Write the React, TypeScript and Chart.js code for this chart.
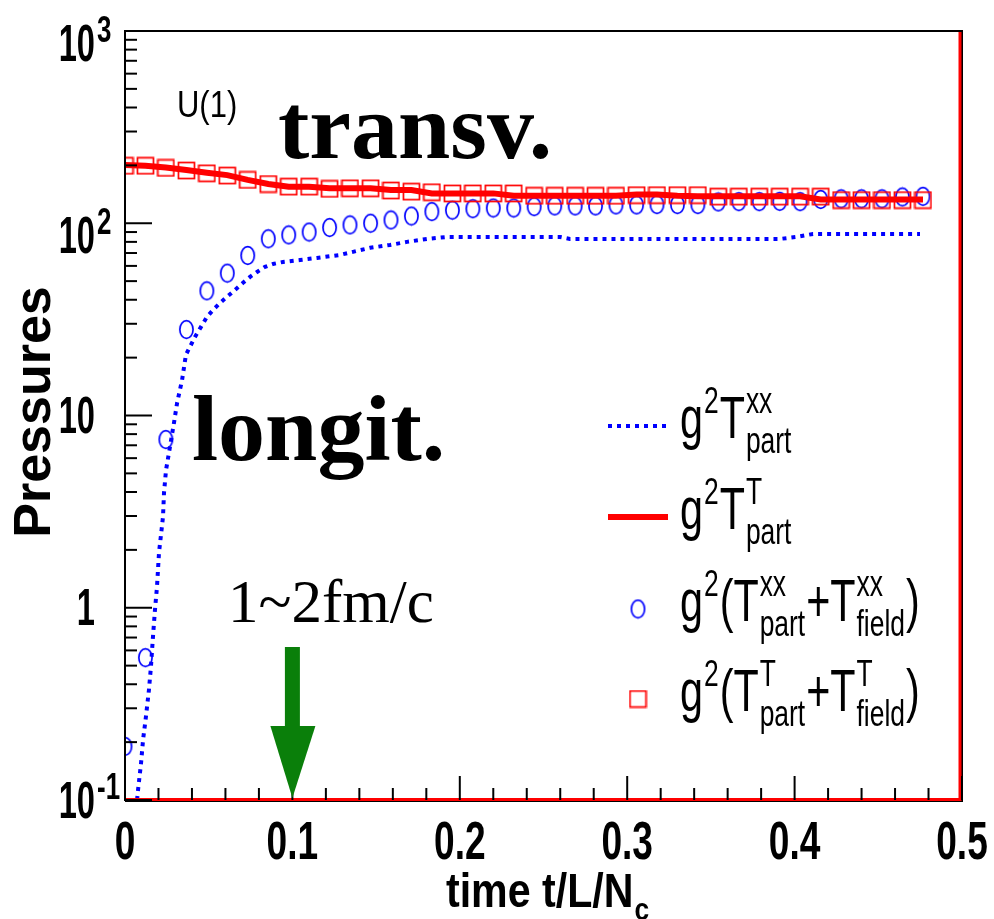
import React, { useEffect, useRef } from 'react';
import { Chart, registerables } from 'chart.js';

Chart.register(...registerables);

// ---- data ----
const MARK_T = [0, 0.0122, 0.0244, 0.0367, 0.0489, 0.0611, 0.0733, 0.0856, 0.0978, 0.11, 0.1222, 0.1344, 0.1467, 0.1589, 0.1711, 0.1833, 0.1956, 0.2078, 0.22, 0.2322, 0.2444, 0.2567, 0.2689, 0.2811, 0.2933, 0.3056, 0.3178, 0.33, 0.3422, 0.3544, 0.3667, 0.3789, 0.3911, 0.4033, 0.4156, 0.4278, 0.44, 0.4522, 0.4644, 0.4767];

// g^2 (T^xx_part + T^xx_field)  (blue circles)
const CIRCLE_V = [0.19, 0.55, 7.5, 28, 44.5, 55, 68, 83, 87, 90, 95, 98, 100, 104, 109, 115, 117, 119, 120, 120, 122, 123, 123, 123, 124.5, 124.5, 125, 125, 125, 129, 129.5, 129.5, 130, 129.5, 133, 134, 134, 134, 137, 138];

// g^2 (T^T_part + T^T_field)  (red squares)
const SQUARE_V = [199, 199, 194, 188, 182, 177, 168, 160, 155, 155, 151, 152, 152, 148, 146, 145, 143, 143, 143, 143, 139, 139, 139, 139, 139, 140, 140, 140, 140, 137.5, 137.5, 137.5, 137.5, 137.5, 137.5, 132, 132, 132, 132, 132];

// g^2 T^T_part  (red solid line)
const LINE_V = [201, 199, 195, 189, 183, 178, 168, 160, 155, 155, 152, 152, 152, 149, 149, 143, 143, 143, 143, 139, 139, 139, 139, 139, 139, 141, 141, 139, 138, 138, 138, 138, 138, 138, 133, 133, 133, 133, 133, 133];

// g^2 T^xx_part  (blue dotted line)
const DOT_T = [0.0072, 0.0078, 0.0096, 0.0108, 0.0125, 0.0143, 0.0155, 0.0167, 0.0179, 0.0191, 0.0203, 0.0227, 0.0233, 0.0245, 0.0269, 0.0293, 0.0311, 0.0341, 0.0364, 0.0418, 0.0454, 0.049, 0.0526, 0.0568, 0.0609, 0.0657, 0.0705, 0.0747, 0.0789, 0.0836, 0.0884, 0.0944, 0.1045, 0.1147, 0.1284, 0.1362, 0.1464, 0.1583, 0.1685, 0.1804, 0.1924, 0.2599, 0.2658, 0.3913, 0.4014, 0.411, 0.4749];
const DOT_V = [0.1, 0.113, 0.156, 0.206, 0.271, 0.374, 0.493, 0.706, 0.975, 1.28, 1.93, 2.97, 3.96, 5.2, 6.9, 9.2, 11.6, 15.3, 20.7, 25.6, 28.9, 32.6, 35.4, 38.5, 41.4, 45.0, 49.0, 52.6, 55.8, 59.3, 61.4, 62.9, 64.4, 66.0, 68.4, 71.0, 74.5, 77.1, 80.0, 82.9, 84.9, 84.9, 82.9, 82.9, 84.9, 88, 88];

const X_MAJOR = [0, 0.1, 0.2, 0.3, 0.4, 0.5];
const X_LABELS = ['0', '0.1', '0.2', '0.3', '0.4', '0.5'];
const Y_MAJOR = [0.1, 1, 10, 100, 1000];
const Y_LABEL_BASE = ['10', '1', '10', '10', '10'];
const Y_LABEL_EXP = ['-1', '', '', '2', '3'];

type Part = { t?: string; sup?: string; sub?: string };
const LEGEND_TEXT: Part[][] = [
  [{ t: 'g', sup: '2' }, { t: 'T', sup: 'xx', sub: 'part' }],
  [{ t: 'g', sup: '2' }, { t: 'T', sup: 'T', sub: 'part' }],
  [{ t: 'g', sup: '2' }, { t: '(T', sup: 'xx', sub: 'part' }, { t: '+T', sup: 'xx', sub: 'field' }, { t: ')' }],
  [{ t: 'g', sup: '2' }, { t: '(T', sup: 'T', sub: 'part' }, { t: '+T', sup: 'T', sub: 'field' }, { t: ')' }],
];

const BLUE = '#0000ff';
const RED = '#ff0000';
const GREEN = '#0a7f0a';

function txt(ctx: CanvasRenderingContext2D, s: string, x: number, y: number, font: string, k: number, align: string, draw = true) {
  ctx.save();
  ctx.font = font;
  const w = ctx.measureText(s).width * k;
  if (draw) {
    const x0 = align === 'center' ? x - w / 2 : align === 'right' ? x - w : x;
    ctx.translate(x0, y);
    ctx.scale(k, 1);
    ctx.textAlign = 'left';
    ctx.textBaseline = 'alphabetic';
    ctx.fillText(s, 0, 0);
  }
  ctx.restore();
  return w;
}

function rich(ctx: CanvasRenderingContext2D, parts: Part[], x: number, y: number, S: number, k: number, weight: string, draw = true) {
  let cx = x;
  const fam = '"Liberation Sans", Arial, sans-serif';
  for (const p of parts) {
    if (p.t) cx += txt(ctx, p.t, cx, y, `${weight} ${S}px ${fam}`, k, 'left', draw);
    if (p.sup || p.sub) {
      const s = S * 0.64;
      let w1 = 0, w2 = 0;
      if (p.sup) w1 = txt(ctx, p.sup, cx + 1, y - S * 0.42, `${weight} ${s}px ${fam}`, k, 'left', draw);
      if (p.sub) w2 = txt(ctx, p.sub, cx + 1, y + S * 0.26, `${weight} ${s}px ${fam}`, k, 'left', draw);
      cx += Math.max(w1, w2) + 2;
    }
  }
  return cx - x;
}

function makeEllipse() {
  const c = document.createElement('canvas');
  c.width = 17; c.height = 21;
  const g = c.getContext('2d')!;
  g.strokeStyle = BLUE; g.lineWidth = 1.7;
  g.beginPath(); g.ellipse(8.5, 10.5, 6.6, 8.8, 0, 0, Math.PI * 2); g.stroke();
  return c;
}
function makeSquare() {
  const c = document.createElement('canvas');
  c.width = 19; c.height = 19;
  const g = c.getContext('2d')!;
  g.strokeStyle = RED; g.lineWidth = 1.7;
  g.strokeRect(1.5, 1.5, 16, 16);
  return c;
}

export default function App() {
  const ref = useRef<HTMLCanvasElement | null>(null);
  useEffect(() => {
    document.body.style.margin = '0';
    const ellipse = makeEllipse();
    const square = makeSquare();

    const decor = {
      id: 'decor',
      afterDraw(chart: any) {
        const ctx: CanvasRenderingContext2D = chart.ctx;
        const ca = chart.chartArea;
        const xs = chart.scales.x, ys = chart.scales.y;
        ctx.save();
        // frame
        ctx.strokeStyle = '#000'; ctx.lineWidth = 2;
        ctx.beginPath();
        ctx.moveTo(ca.left, ca.bottom + 1); ctx.lineTo(ca.left, ca.top);
        ctx.lineTo(ca.right, ca.top); ctx.lineTo(ca.right, ca.bottom + 1);
        ctx.lineTo(ca.left, ca.bottom + 1);
        ctx.stroke();
        ctx.strokeStyle = RED; ctx.lineWidth = 3;
        ctx.beginPath();
        ctx.moveTo(ca.left, ca.bottom - 0.5); ctx.lineTo(ca.right - 2, ca.bottom - 0.5); ctx.lineTo(ca.right - 2, ca.top + 1);
        ctx.stroke();
        // x ticks
        ctx.strokeStyle = '#000'; ctx.lineWidth = 2;
        for (let i = 0; i <= 25; i++) {
          const v = i * 0.02;
          const px = xs.getPixelForValue(v);
          const major = i % 5 === 0;
          ctx.beginPath(); ctx.moveTo(px, ca.bottom); ctx.lineTo(px, ca.bottom - (major ? 24 : 12)); ctx.stroke();
        }
        // y ticks
        for (let d = -1; d < 3; d++) {
          for (let m = 1; m <= 9; m++) {
            const v = m * Math.pow(10, d);
            const py = ys.getPixelForValue(v);
            ctx.beginPath(); ctx.moveTo(ca.left, py); ctx.lineTo(ca.left + (m === 1 ? 27 : 12), py); ctx.stroke();
          }
        }
        {
          const py = ys.getPixelForValue(1000);
          ctx.beginPath(); ctx.moveTo(ca.left, py); ctx.lineTo(ca.left + 27, py); ctx.stroke();
        }
        ctx.fillStyle = '#000';
        const SF = '"Liberation Sans", Arial, sans-serif';
        // x tick labels
        X_MAJOR.forEach((v, i) => {
          txt(ctx, X_LABELS[i], xs.getPixelForValue(v), ca.bottom + 59, `bold 53px ${SF}`, 0.7, 'center');
        });
        // y tick labels
        Y_MAJOR.forEach((v, i) => {
          const py = ys.getPixelForValue(v);
          const exp = Y_LABEL_EXP[i];
          const base = Y_LABEL_BASE[i];
          const off = exp ? (v < 1 ? 18 : 30) : 17;
          txt(ctx, base, 95, py + off, `bold 51px ${SF}`, 0.64, 'right');
          if (exp) txt(ctx, exp, 97, py + off - 19, `bold 36px ${SF}`, 0.72, 'left');
        });
        // axis titles
        {
          const w = rich(ctx, [{ t: 'time t/L/N', sub: 'c' }], 0, 0, 49, 0.84, 'bold', false);
          rich(ctx, [{ t: 'time t/L/N', sub: 'c' }], 548 - w / 2, 907, 49, 0.84, 'bold');
        }
        ctx.save();
        ctx.translate(50, 412);
        ctx.rotate(-Math.PI / 2);
        txt(ctx, 'Pressures', 0, 0, `bold 52px ${SF}`, 1.0, 'center');
        ctx.restore();
        // annotations
        txt(ctx, 'U(1)', 177, 117, `36px ${SF}`, 0.86, 'left');
        const SER = '"Liberation Serif", "Times New Roman", serif';
        txt(ctx, 'transv.', 278, 158, `bold 94px ${SER}`, 1.0, 'left');
        txt(ctx, 'longit.', 192, 460, `bold 94px ${SER}`, 1.0, 'left');
        txt(ctx, '1~2fm/c', 228, 622, `61px ${SER}`, 1.0, 'left');
        // arrow at t = 0.1
        {
          const ax = xs.getPixelForValue(0.1);
          ctx.fillStyle = GREEN;
          ctx.fillRect(ax - 7.5, 647, 15, 82);
          ctx.beginPath();
          ctx.moveTo(ax - 22, 726); ctx.lineTo(ax + 23, 726); ctx.lineTo(ax, ca.bottom - 2); ctx.closePath();
          ctx.fill();
        }
        // legend
        ctx.fillStyle = '#000';
        const rows = [426, 517, 609, 699];
        ctx.save();
        ctx.strokeStyle = BLUE; ctx.lineWidth = 4; ctx.setLineDash([4, 5]);
        ctx.beginPath(); ctx.moveTo(608, rows[0]); ctx.lineTo(668, rows[0]); ctx.stroke();
        ctx.setLineDash([]);
        ctx.strokeStyle = RED; ctx.lineWidth = 6;
        ctx.beginPath(); ctx.moveTo(608, rows[1]); ctx.lineTo(668, rows[1]); ctx.stroke();
        ctx.restore();
        ctx.drawImage(ellipse, 638 - ellipse.width / 2, rows[2] - ellipse.height / 2);
        ctx.drawImage(square, 638 - square.width / 2, rows[3] - square.height / 2);
        LEGEND_TEXT.forEach((parts, i) => {
          rich(ctx, parts, 680, rows[i] + 12, 59, 0.7, 'normal');
        });
        ctx.restore();
      },
    };

    const chart = new Chart(ref.current!, {
      type: 'line',
      data: {
        datasets: [
          {
            label: 'g2 T^T part',
            data: MARK_T.map((t, i) => ({ x: t, y: LINE_V[i] })),
            borderColor: RED, borderWidth: 6, pointRadius: 0, tension: 0, order: 0,
          },
          {
            label: 'g2 (T^T part + T^T field)',
            data: MARK_T.map((t, i) => ({ x: t, y: SQUARE_V[i] })),
            showLine: false, pointStyle: square as any, pointRadius: 9, order: 1,
            borderColor: RED, backgroundColor: 'transparent',
          },
          {
            label: 'g2 (T^xx part + T^xx field)',
            data: MARK_T.map((t, i) => ({ x: t, y: CIRCLE_V[i] })),
            showLine: false, pointStyle: ellipse as any, pointRadius: 9, order: 2,
            borderColor: BLUE, backgroundColor: 'transparent',
          },
          {
            label: 'g2 T^xx part',
            data: DOT_T.map((t, i) => ({ x: t, y: DOT_V[i] })),
            borderColor: BLUE, borderWidth: 4, borderDash: [4, 5], pointRadius: 0, tension: 0, order: 3,
          },
        ],
      },
      options: {
        animation: false,
        responsive: false,
        devicePixelRatio: 1,
        layout: { padding: { top: 31, right: 32, left: 0, bottom: 0 } },
        plugins: { legend: { display: false }, tooltip: { enabled: false } },
        scales: {
          x: {
            type: 'linear', min: 0, max: 0.5,
            ticks: { display: false }, grid: { display: false }, border: { display: false },
            afterFit: (s: any) => { s.height = 119; },
          },
          y: {
            type: 'logarithmic', min: 0.1, max: 1000,
            ticks: { display: false }, grid: { display: false }, border: { display: false },
            afterFit: (s: any) => { s.width = 125; },
          },
        },
      },
      plugins: [decor],
    } as any);
    return () => chart.destroy();
  }, []);

  return (
    <div style={{ width: 994, height: 919, background: '#fff' }}>
      <canvas ref={ref} width={994} height={919} style={{ display: 'block' }} />
    </div>
  );
}
